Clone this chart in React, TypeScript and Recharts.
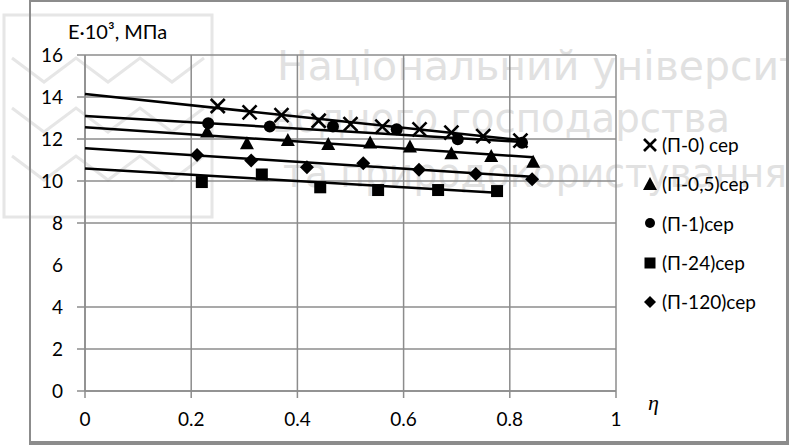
import React from 'react';
import { ComposedChart, Scatter, XAxis, YAxis, CartesianGrid } from 'recharts';

// η values and E·10³ (MPa), per series
const etaP0 = [0.25, 0.31, 0.37, 0.44, 0.5, 0.56, 0.63, 0.69, 0.75, 0.82];
const eP0 = [13.57, 13.27, 13.14, 12.87, 12.71, 12.59, 12.46, 12.3, 12.14, 11.92];
const etaP05 = [0.23, 0.305, 0.382, 0.458, 0.537, 0.612, 0.69, 0.765, 0.844];
const eP05 = [12.35, 11.8, 11.95, 11.76, 11.83, 11.64, 11.32, 11.19, 10.92];
const etaP1 = [0.232, 0.348, 0.467, 0.587, 0.702, 0.823];
const eP1 = [12.75, 12.59, 12.59, 12.46, 11.99, 11.82];
const etaP24 = [0.22, 0.333, 0.443, 0.552, 0.665, 0.776];
const eP24 = [9.95, 10.31, 9.7, 9.57, 9.57, 9.52];
const etaP120 = [0.211, 0.313, 0.418, 0.524, 0.629, 0.736, 0.842];
const eP120 = [11.24, 10.98, 10.65, 10.84, 10.54, 10.33, 10.08];

// trendline values: at η = 0 and at the last point of each series
const trendP0 = [14.14, 11.95];
const trendP05 = [12.56, 11.13];
const trendP1 = [13.1, 11.86];
const trendP24 = [10.6, 9.44];
const trendP120 = [11.56, 10.2];

const xTicks = [0, 0.2, 0.4, 0.6, 0.8, 1];
const yTicks = [0, 2, 4, 6, 8, 10, 12, 14, 16];
const yGridValues = [0, 2, 4, 8, 10, 12, 14, 16]; // no line at 6 in the original

const FONT = 'Lato, "Open Sans", sans-serif';
const GRID = '#8c8c8c';
const INK = '#000';

type Pt = { x: number; y: number };

const toPoints = (eta: number[], e: number[]): Pt[] => eta.map((x, i) => ({ x, y: e[i] }));
const toTrend = (eta: number[], t: number[]): Pt[] => [
  { x: 0, y: t[0] },
  { x: Math.max(...eta), y: t[1] },
];

const Cross = ({ cx, cy, s = 7 }: any) => (
  <g stroke={INK} strokeWidth={2.6}>
    <line x1={cx - s} y1={cy - s} x2={cx + s} y2={cy + s} />
    <line x1={cx - s} y1={cy + s} x2={cx + s} y2={cy - s} />
  </g>
);
const Tri = ({ cx, cy, s = 7 }: any) => (
  <polygon points={`${cx - s},${cy + s * 0.85} ${cx + s},${cy + s * 0.85} ${cx},${cy - s}`} fill={INK} />
);
const Dot = ({ cx, cy, s = 6 }: any) => <circle cx={cx} cy={cy} r={s} fill={INK} />;
const Sq = ({ cx, cy, s = 6 }: any) => <rect x={cx - s} y={cy - s} width={s * 2} height={s * 2} fill={INK} />;
const Diam = ({ cx, cy, s = 7 }: any) => (
  <polygon points={`${cx},${cy - s} ${cx + s},${cy} ${cx},${cy + s} ${cx - s},${cy}`} fill={INK} />
);

const series = [
  { name: '(П-0) сер', pts: toPoints(etaP0, eP0), fit: toTrend(etaP0, trendP0), Shape: Cross, ls: 6 },
  { name: '(П-0,5)сер', pts: toPoints(etaP05, eP05), fit: toTrend(etaP05, trendP05), Shape: Tri, ls: 7 },
  { name: '(П-1)сер', pts: toPoints(etaP1, eP1), fit: toTrend(etaP1, trendP1), Shape: Dot, ls: 5 },
  { name: '(П-24)сер', pts: toPoints(etaP24, eP24), fit: toTrend(etaP24, trendP24), Shape: Sq, ls: 5.5 },
  { name: '(П-120)сер', pts: toPoints(etaP120, eP120), fit: toTrend(etaP120, trendP120), Shape: Diam, ls: 6 },
];

const YTick = (props: any) => {
  const { x, y, payload } = props;
  return (
    <g>
      {payload.value !== 6 && (
        <line x1={x + 14} x2={x + 22} y1={y} y2={y} stroke={GRID} strokeWidth={1.5} />
      )}
      <text x={x} y={y} dy={6.5} textAnchor="end" fontSize={19} fontFamily={FONT} fill={INK}>
        {payload.value}
      </text>
    </g>
  );
};

const Watermark = () => {
  const zig = (top: number, bot: number) => {
    const pts: string[] = [];
    for (let i = 0; i <= 6; i++) pts.push(`${12 + i * 32},${i % 2 === 0 ? top : bot}`);
    return pts.join(' ');
  };
  return (
    <svg width={789} height={445} style={{ position: 'absolute', left: 0, top: 0 }}>
      <rect x={4} y={15} width={208} height={202} fill="none" stroke="#e6e6e6" strokeWidth={3} />
      {[
        [58, 82],
        [108, 132],
        [156, 180],
      ].map(([t, b], i) => (
        <polyline key={i} points={zig(t, b)} fill="none" stroke="#e6e6e6" strokeWidth={3} />
      ))}
      <g fill="#e1e1e1" fontFamily='"DejaVu Sans", sans-serif' fontSize={40}>
        <text x={277} y={80} textLength={575} lengthAdjust="spacingAndGlyphs">Національний університет</text>
        <text x={272} y={132} textLength={458} lengthAdjust="spacingAndGlyphs">водного господарства</text>
        <text x={283} y={187} textLength={504} lengthAdjust="spacingAndGlyphs">та природокористування</text>
      </g>
    </svg>
  );
};

const App: React.FC = () => {
  return (
    <div style={{ position: 'absolute', left: 0, top: 0, width: 789, height: 445, background: '#fff', overflow: 'hidden' }}>
      <Watermark />
      <ComposedChart
        width={789}
        height={445}
        margin={{ top: 55, right: 173, bottom: 24, left: 25 }}
        style={{ position: 'absolute', left: 0, top: 0 }}
      >
        <CartesianGrid stroke={GRID} strokeWidth={1.5} horizontalValues={yGridValues} />
        <XAxis
          type="number"
          dataKey="x"
          domain={[0, 1]}
          ticks={xTicks}
          height={30}
          tickSize={7}
          tickMargin={15}
          stroke={GRID}
          axisLine={{ stroke: GRID, strokeWidth: 1.5 }}
          tickLine={{ stroke: GRID, strokeWidth: 1.5 }}
          tick={{ fill: INK, fontSize: 19, fontFamily: FONT }}
          tickFormatter={(v: number) => String(v)}
          label={{
            value: 'η',
            position: 'right',
            offset: 32,
            dy: -4,
            fill: INK,
            fontSize: 22,
            fontStyle: 'italic',
            fontFamily: '"Liberation Serif", serif',
          }}
        />
        <YAxis
          type="number"
          dataKey="y"
          domain={[0, 16]}
          ticks={yTicks}
          width={60}
          tickSize={8}
          tickMargin={14}
          tickLine={false}
          axisLine={{ stroke: GRID, strokeWidth: 1.5 }}
          tick={<YTick />}
        />
        {series.map((s) => (
          <Scatter
            key={s.name + '-trend'}
            data={s.fit}
            line={{ stroke: INK, strokeWidth: 2.5 }}
            shape={() => <g />}
            legendType="none"
            isAnimationActive={false}
          />
        ))}
        {series.map((s) => (
          <Scatter
            key={s.name}
            name={s.name}
            data={s.pts}
            shape={(p: any) => <s.Shape cx={p.cx} cy={p.cy} />}
            isAnimationActive={false}
          />
        ))}
      </ComposedChart>

      <div
        style={{
          position: 'absolute',
          left: 68,
          top: 19,
          fontFamily: FONT,
          fontSize: 20,
          color: INK,
          whiteSpace: 'nowrap',
        }}
      >
        E·10³, МПа
      </div>

      <div style={{ position: 'absolute', left: 642, top: 125, fontFamily: FONT, fontSize: 19, color: INK }}>
        {series.map((s) => (
          <div key={s.name} style={{ display: 'flex', alignItems: 'center', height: 39.3, whiteSpace: 'nowrap' }}>
            <svg width={16} height={16} style={{ marginRight: 4 }}>
              <s.Shape cx={8} cy={8} s={s.ls} />
            </svg>
            <span>{s.name}</span>
          </div>
        ))}
      </div>

      <div
        style={{
          position: 'absolute',
          left: 29,
          top: 0,
          width: 760,
          height: 445,
          boxSizing: 'border-box',
          borderLeft: `2px solid ${GRID}`,
          borderTop: `2px solid ${GRID}`,
          borderRight: `3px solid ${GRID}`,
          borderBottom: `4px solid ${GRID}`,
          pointerEvents: 'none',
        }}
      />
    </div>
  );
};

export default App;
